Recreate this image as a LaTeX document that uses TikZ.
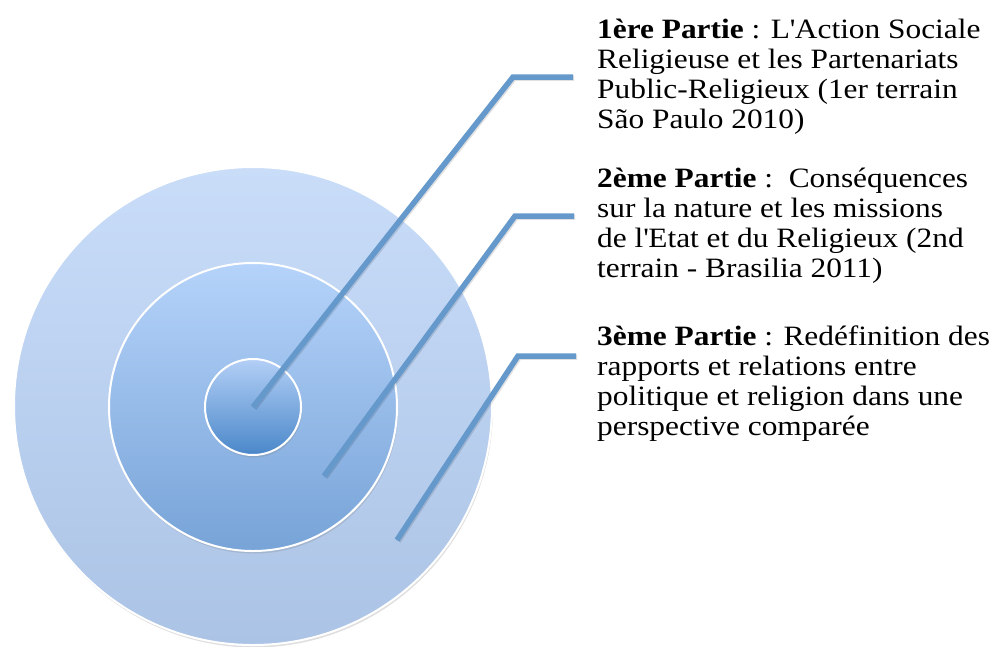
\documentclass[tikz,border=0pt]{standalone}
\usepackage{fontspec}
\setmainfont[FakeStretch=1.12]{Liberation Serif}
\usetikzlibrary{shadows}
\definecolor{outT}{HTML}{C9DDF9}
\definecolor{outB}{HTML}{ABC3E5}
\definecolor{midT}{HTML}{B5D3FA}
\definecolor{midB}{HTML}{77A3D7}
\definecolor{inT}{HTML}{B3CFF6}
\definecolor{inB}{HTML}{4A87C9}
\definecolor{lead}{HTML}{6599CC}
\tikzset{
  ring/.style={circle, draw=white, line width=2pt, inner sep=0pt,
    drop shadow={opacity=0.25, shadow xshift=1pt, shadow yshift=-2.5pt}},
  leader/.style={draw=lead, line width=5.5pt, line join=miter},
  leadershadow/.style={draw=black, opacity=0.12, line width=5.5pt},
  parttext/.style={anchor=base west, align=left, inner sep=0pt,
    font=\fontsize{28}{30}\selectfont, text=black}
}
\newcommand{\partlines}[1]{\begin{tabular}[t]{@{}l@{}}#1\end{tabular}}
\newcommand{\sq}{\textquotesingle}
\begin{document}
\begin{tikzpicture}[x=1pt,y=-1pt]
\useasboundingbox (0,0) rectangle (998,646);
\node[ring, minimum size=478pt, top color=outT, bottom color=outB] (outer) at (253,406) {};
\node[ring, minimum size=288pt, top color=midT, bottom color=midB] (middle) at (253,407) {};
\node[ring, minimum size=96pt, top color=inT, bottom color=inB] (inner) at (253,407) {};
% leader points
\coordinate (s1) at (253,407);
\coordinate (c1) at (513,77);
\coordinate (e1) at (573,77);
\coordinate (s2) at (324,476);
\coordinate (c2) at (515,216);
\coordinate (e2) at (574,216);
\coordinate (s3) at (397,540);
\coordinate (c3) at (518,356);
\coordinate (e3) at (576,356);
\foreach \a/\b/\c in {s1/c1/e1, s2/c2/e2, s3/c3/e3}{
  \draw[leadershadow, transform canvas={xshift=1.2pt, yshift=-1.2pt}] (\a) -- (\b) -- (\c);
  \draw[leader] (\a) -- (\b) -- (\c);
}
\node[parttext] (t1) at (597,38) {\partlines{\textbf{1ère Partie} : L\sq Action Sociale\\Religieuse et les Partenariats\\Public-Religieux (1er terrain\\São Paulo 2010)}};
\node[parttext] (t2) at (597,187) {\partlines{\textbf{2ème Partie} :\ \ Conséquences\\sur la nature et les missions\\de l\sq Etat et du Religieux (2nd\\terrain - Brasilia 2011)}};
\node[parttext] (t3) at (597,345) {\partlines{\textbf{3ème Partie} : Redéfinition des\\rapports et relations entre\\politique et religion dans une\\perspective comparée}};
\end{tikzpicture}
\end{document}
